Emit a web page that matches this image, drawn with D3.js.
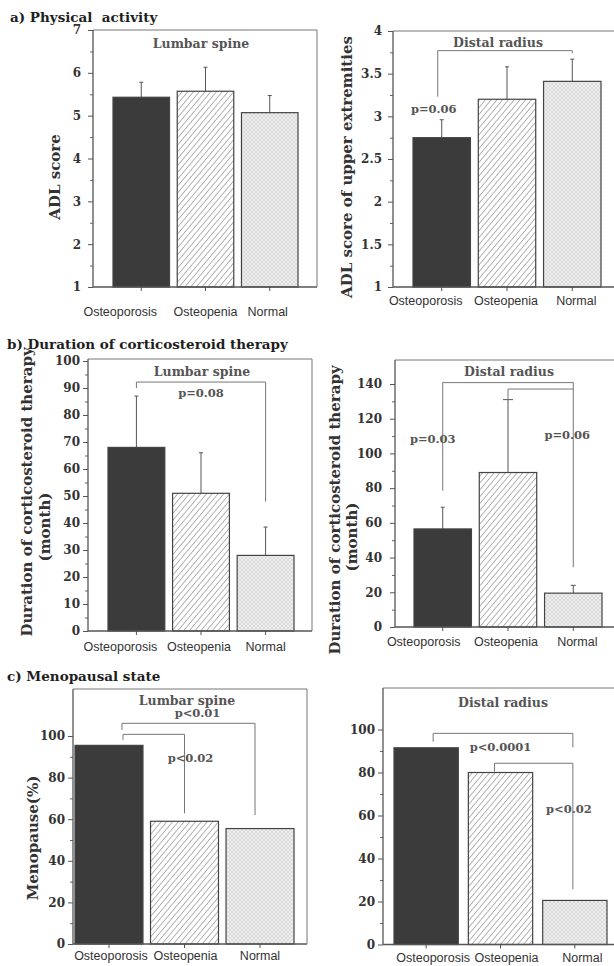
<!DOCTYPE html>
<html>
<head>
<meta charset="utf-8">
<script src="https://cdn.jsdelivr.net/npm/d3@7"></script>
<style>
  body { margin: 0; background: #fff; }
  svg { display: block; }
</style>
</head>
<body>
<div id="chart"></div>
<script>
const groups = ['Osteoporosis', 'Osteopenia', 'Normal'];

// a) physical activity - ADL score (mean, SE)
const adlSpine = [5.43, 5.57, 5.07];
const adlSpineErr = [0.35, 0.56, 0.40];
const adlRadius = [2.75, 3.20, 3.41];
const adlRadiusErr = [0.21, 0.38, 0.26];

// b) duration of corticosteroid therapy, months (mean, SE)
const durSpine = [68, 51, 28];
const durSpineErr = [19, 15, 10.5];
const durRadius = [56.5, 89, 19.5];
const durRadiusErr = [12.5, 42, 4.5];

// c) menopausal state, %
const menoSpine = [95.5, 59, 55.5];
const menoRadius = [91.5, 80, 20.5];

// tick labels
const adlSpineTicks = [1, 2, 3, 4, 5, 6, 7];
const adlRadiusTicks = [1, 1.5, 2, 2.5, 3, 3.5, 4];
const durSpineTicks = [0, 10, 20, 30, 40, 50, 60, 70, 80, 90, 100];
const durRadiusTicks = [0, 20, 40, 60, 80, 100, 120, 140];
const menoTicks = [0, 20, 40, 60, 80, 100];

const width = 614;
const height = 966;
const serif = '"DejaVu Serif", "Liberation Serif", serif';
const sans = '"Liberation Sans", Arial, sans-serif';

const svg = d3.select('#chart').append('svg')
    .attr('width', width)
    .attr('height', height);

svg.append('rect').attr('width', width).attr('height', height).attr('fill', '#fff');

const defs = svg.append('defs');

defs.append('pattern')
    .attr('id', 'hatch')
    .attr('patternUnits', 'userSpaceOnUse')
    .attr('width', 4.4).attr('height', 4.4)
    .attr('patternTransform', 'rotate(40)')
    .call(p => {
        p.append('rect').attr('width', 4.4).attr('height', 4.4).attr('fill', '#fff');
        p.append('line').attr('x1', 0).attr('y1', 0).attr('x2', 0).attr('y2', 4.4)
            .attr('stroke', '#6a6a6a').attr('stroke-width', 1);
    });

defs.append('pattern')
    .attr('id', 'cross')
    .attr('patternUnits', 'userSpaceOnUse')
    .attr('width', 4).attr('height', 4)
    .call(p => {
        p.append('rect').attr('width', 4).attr('height', 4).attr('fill', '#eeeeee');
        p.append('path').attr('d', 'M0,0L4,4M4,0L0,4')
            .attr('stroke', '#d6d6d6').attr('stroke-width', 0.8);
    });

const fills = ['#3b3b3b', 'url(#hatch)', 'url(#cross)'];

// section titles
const titles = [
    {text: 'a) Physical  activity', x: 10, y: 22},
    {text: 'b) Duration of corticosteroid therapy', x: 7, y: 349},
    {text: 'c) Menopausal state', x: 7, y: 681}
];
svg.selectAll('.section-title')
    .data(titles)
    .enter()
    .append('text')
    .attr('class', 'section-title')
    .attr('x', d => d.x)
    .attr('y', d => d.y)
    .attr('font-family', serif)
    .attr('font-weight', 'bold')
    .attr('font-size', 13.5)
    .attr('fill', '#1e1e1e')
    .style('white-space', 'pre')
    .text(d => d.text);

const panels = [
    {
        values: adlSpine, errors: adlSpineErr, ticks: adlSpineTicks, minorStep: 0.5,
        domain: [1, 7], bottom: 287, yTop: 30, top: 30, left: 93, right: 317, boxed: true,
        bars: [113, 298], pad: 0.12, tickGap: 12, labelDy: 29, labelDx: [-21, 0, -2],
        subtitle: 'Lumbar spine', subX: 201, subY: 48,
        yLabel: ['ADL score'], yLabelX: [55], yLabelY: [177],
        brackets: [], notes: []
    },
    {
        values: adlRadius, errors: adlRadiusErr, ticks: adlRadiusTicks, minorStep: 0.25,
        domain: [1, 4], bottom: 287, yTop: 31, top: 31, left: 393, right: 616, boxed: false,
        bars: [413, 601], pad: 0.12, tickGap: 11, labelDy: 18, labelDx: [-16, -1, 4],
        subtitle: 'Distal radius', subX: 498, subY: 47,
        yLabel: ['ADL score of upper extremities'], yLabelX: [347], yLabelY: [167],
        brackets: [{from: 0, dx0: -4, v0: 3.23, vt: 3.77, to: 2, dx1: 0, v1: 3.74}],
        notes: [{text: 'p=0.06', g: 0, dx: -8, v: 3.04}]
    },
    {
        values: durSpine, errors: durSpineErr, ticks: durSpineTicks, minorStep: 5,
        domain: [0, 100], bottom: 631, yTop: 361, top: 359, left: 88, right: 312, boxed: true,
        bars: [108, 294], pad: 0.12, tickGap: 8, labelDy: 20, labelDx: [-16, -2, 0],
        subtitle: 'Lumbar spine', subX: 202, subY: 376,
        yLabel: ['Duration of corticosteroid therapy', '(month)'], yLabelX: [27, 45], yLabelY: [492, 527],
        brackets: [{from: 0, dx0: 0, v0: 90, vt: 92.2, to: 2, dx1: 0, v1: 47.9}],
        notes: [{text: 'p=0.08', g: 1, dx: 0, v: 86.7}]
    },
    {
        values: durRadius, errors: durRadiusErr, ticks: durRadiusTicks, minorStep: 10,
        domain: [0, 140], bottom: 627, yTop: 384, top: 360, left: 395, right: 616, boxed: false,
        bars: [414, 602], pad: 0.12, tickGap: 13, labelDy: 19, labelDx: [-19, -2, 4],
        subtitle: 'Distal radius', subX: 509, subY: 376, caps: [4, 10, 5],
        yLabel: ['Duration of corticosteroid therapy', '(month)'], yLabelX: [335, 352], yLabelY: [510, 537],
        brackets: [
            {from: 0, dx0: 0, v0: 78.5, vt: 140.8, to: 2, dx1: 0, v1: 34.4},
            {from: 1, dx0: 0, v0: 130.8, vt: 137.1, to: 2, dx1: 0, v1: 137.1}
        ],
        notes: [{text: 'p=0.03', g: 0, dx: -10, v: 106}, {text: 'p=0.06', g: 2, dx: -6, v: 108.3}]
    },
    {
        values: menoSpine, errors: null, ticks: menoTicks, minorStep: 10,
        domain: [0, 100], bottom: 944, yTop: 736, top: 689, left: 73, right: 307, boxed: true,
        bars: [75, 294], pad: 0.1, tickGap: 8, labelDy: 16, labelDx: [2, 1, 0],
        subtitle: 'Lumbar spine', subX: 187, subY: 705,
        yLabel: ['Menopause(%)'], yLabelX: [33], yLabelY: [838],
        brackets: [
            {from: 0, dx0: 13, v0: 102.9, vt: 106.1, to: 2, dx1: -5, v1: 62},
            {from: 0, dx0: 14, v0: 98.1, vt: 100.8, to: 1, dx1: 0, v1: 62.8}
        ],
        notes: [{text: 'p<0.01', g: 1, dx: 13, v: 109}, {text: 'p<0.02', g: 1, dx: 6, v: 87.5}]
    },
    {
        values: menoRadius, errors: null, ticks: menoTicks, minorStep: 10,
        domain: [0, 100], bottom: 944.5, yTop: 729.5, top: 688, left: 383, right: 616, boxed: false,
        bars: [394, 607], pad: 0.135, tickGap: 8, labelDy: 17.5, labelDx: [7, 6, 7.5],
        subtitle: 'Distal radius', subX: 503, subY: 707,
        yLabel: [], yLabelX: [], yLabelY: [],
        brackets: [
            {from: 0, dx0: 7, v0: 94.3, vt: 98.2, to: 2, dx1: -2, v1: 91.7},
            {from: 1, dx0: -6, v0: 80.4, vt: 84.3, to: 2, dx1: -2, v1: 25.7}
        ],
        notes: [{text: 'p<0.0001', g: 1, dx: 0, v: 90}, {text: 'p<0.02', g: 2, dx: -6, v: 61.2}]
    }
];

function drawPanel(p) {
    const g = svg.append('g');

    const y = d3.scaleLinear()
        .domain(p.domain)
        .range([p.bottom, p.yTop]);

    const x = d3.scaleBand()
        .domain(groups)
        .range(p.bars)
        .paddingInner(p.pad);

    const cx = (i, dx) => x(groups[i]) + x.bandwidth() / 2 + (dx || 0);

    // minor ticks
    const minors = d3.range(p.domain[0], d3.max(p.ticks) + 1e-9, p.minorStep)
        .filter(v => !p.ticks.some(t => Math.abs(t - v) < 1e-9));

    g.append('g')
        .attr('transform', `translate(${p.left},0)`)
        .call(d3.axisLeft(y).tickValues(minors).tickSize(3).tickFormat(''))
        .call(a => a.select('.domain').remove())
        .call(a => a.selectAll('line').attr('stroke', '#666'));

    g.append('g')
        .attr('transform', `translate(${p.left},0)`)
        .call(d3.axisLeft(y).tickValues(p.ticks).tickSize(5).tickPadding(p.tickGap - 5)
            .tickFormat(d => String(d)))
        .call(a => a.select('.domain').remove())
        .call(a => a.selectAll('line').attr('stroke', '#555'))
        .call(a => a.selectAll('text')
            .attr('font-family', serif)
            .attr('font-weight', 'bold')
            .attr('font-size', 12)
            .attr('fill', '#333'));

    // x axis ticks + labels
    g.append('g')
        .attr('transform', `translate(0,${p.bottom})`)
        .call(d3.axisBottom(x).tickSize(4).tickSizeOuter(0).tickFormat(''))
        .call(a => a.select('.domain').remove())
        .call(a => a.selectAll('line').attr('stroke', '#555'));

    g.selectAll('.cat')
        .data(groups)
        .enter()
        .append('text')
        .attr('x', (d, i) => cx(i, p.labelDx[i]))
        .attr('y', p.bottom + p.labelDy)
        .attr('text-anchor', 'middle')
        .attr('font-family', sans)
        .attr('font-size', 12.5)
        .attr('fill', '#333')
        .text(d => d);

    // bars
    g.selectAll('.bar')
        .data(p.values)
        .enter()
        .append('rect')
        .attr('x', (d, i) => x(groups[i]))
        .attr('y', d => y(d))
        .attr('width', x.bandwidth())
        .attr('height', d => y(p.domain[0]) - y(d))
        .attr('fill', (d, i) => fills[i])
        .attr('stroke', '#444')
        .attr('stroke-width', 1.2);

    // error bars
    if (p.errors) {
        p.values.forEach((v, i) => {
            const top = y(v + p.errors[i]);
            const cap = p.caps ? p.caps[i] : 4;
            g.append('line')
                .attr('x1', cx(i)).attr('x2', cx(i))
                .attr('y1', y(v)).attr('y2', top)
                .attr('stroke', '#555').attr('stroke-width', 1);
            g.append('line')
                .attr('x1', cx(i) - cap / 2).attr('x2', cx(i) + cap / 2)
                .attr('y1', top).attr('y2', top)
                .attr('stroke', '#555').attr('stroke-width', 1);
        });
    }

    // frame
    const frame = g.append('g').attr('stroke', '#555').attr('fill', 'none');
    frame.append('line').attr('x1', p.left).attr('x2', p.right).attr('y1', p.top).attr('y2', p.top)
        .attr('stroke', '#777');
    frame.append('line').attr('x1', p.left).attr('x2', p.right).attr('y1', p.bottom).attr('y2', p.bottom)
        .attr('stroke-width', 1.3);
    frame.append('line').attr('x1', p.left).attr('x2', p.left).attr('y1', p.top).attr('y2', p.bottom)
        .attr('stroke-width', 1.3);
    if (p.boxed) {
        frame.append('line').attr('x1', p.right).attr('x2', p.right).attr('y1', p.top).attr('y2', p.bottom)
            .attr('stroke', '#777');
    }

    // significance brackets
    g.selectAll('.bracket')
        .data(p.brackets)
        .enter()
        .append('path')
        .attr('d', b => `M${cx(b.from, b.dx0)},${y(b.v0)}V${y(b.vt)}H${cx(b.to, b.dx1)}V${y(b.v1)}`)
        .attr('fill', 'none')
        .attr('stroke', '#777')
        .attr('stroke-width', 1);

    g.selectAll('.note')
        .data(p.notes)
        .enter()
        .append('text')
        .attr('x', n => cx(n.g, n.dx))
        .attr('y', n => y(n.v))
        .attr('text-anchor', 'middle')
        .attr('font-family', serif)
        .attr('font-weight', 'bold')
        .attr('font-size', 11.5)
        .attr('fill', '#555')
        .text(n => n.text);

    g.append('text')
        .attr('x', p.subX)
        .attr('y', p.subY)
        .attr('text-anchor', 'middle')
        .attr('font-family', serif)
        .attr('font-weight', 'bold')
        .attr('font-size', 12.5)
        .attr('fill', '#555')
        .text(p.subtitle);

    p.yLabel.forEach((t, i) => {
        g.append('text')
            .attr('transform', `translate(${p.yLabelX[i]},${p.yLabelY[i]}) rotate(-90)`)
            .attr('text-anchor', 'middle')
            .attr('dominant-baseline', 'central')
            .attr('font-family', serif)
            .attr('font-weight', 'bold')
            .attr('font-size', 15)
            .attr('fill', '#333')
            .text(t);
    });
}

panels.forEach(drawPanel);
</script>
</body>
</html>
